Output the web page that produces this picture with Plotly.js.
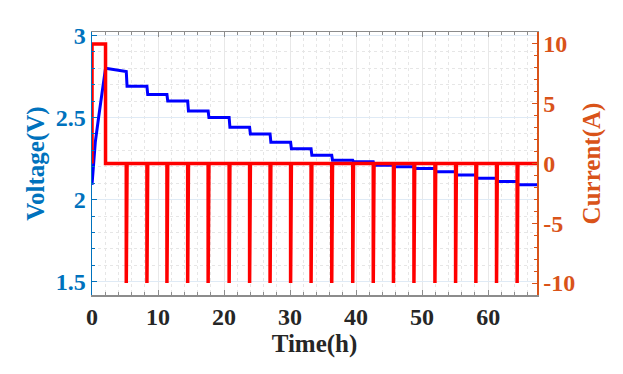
<!DOCTYPE html>
<html>
<head>
<meta charset="utf-8">
<script src="https://cdn.plot.ly/plotly-3.0.1.min.js"></script>
<style>html,body{margin:0;padding:0;background:#fff;}#chart{width:623px;height:374px;}</style>
</head>
<body>
<div id="chart"></div>
<script>
// ---- data ----
const riseTime = [0, 0.15, 0.5, 1.0, 1.5, 2.05];          // h
const riseVoltage = [2.09, 2.19, 2.35, 2.50, 2.65, 2.80]; // V
const pulseTimes = [5.19, 8.32, 11.35, 14.49, 17.59, 20.77, 23.87, 26.97, 30.08, 33.18,
                    36.31, 39.49, 42.60, 45.66, 48.76, 51.94, 55.07, 58.14, 61.27, 64.39]; // h
const plateauVoltage = [2.78, 2.69, 2.64, 2.60, 2.54, 2.50, 2.44, 2.40, 2.35, 2.31, 2.27,
                        2.24, 2.23, 2.21, 2.20, 2.19, 2.17, 2.15, 2.13, 2.11, 2.09]; // V (before/after each pulse)
const pulseDuration = 0.12;     // h
const chargeEnd = 2.05;         // h
const chargeCurrent = 10;       // A
const pulseCurrent = -10;       // A
const endTime = 67.4;           // h

// ---- build series ----
const vt = riseTime.slice(), vv = riseVoltage.slice();
const ct = [0, 0, chargeEnd, chargeEnd], cc = [0, chargeCurrent, chargeCurrent, 0];
pulseTimes.forEach((tp, k) => {
  vt.push(tp, tp + pulseDuration);
  vv.push(plateauVoltage[k], plateauVoltage[k + 1]);
  ct.push(tp, tp, tp + pulseDuration, tp + pulseDuration);
  cc.push(0, pulseCurrent, pulseCurrent, 0);
});
vt.push(endTime); vv.push(plateauVoltage[plateauVoltage.length - 1]);
ct.push(endTime); cc.push(0);

const FONT = 'Liberation Serif, Times New Roman, serif';
const BLUE = '#0072BD', ORANGE = '#D95319';

const traces = [
  {x: vt, y: vv, type: 'scatter', mode: 'lines', line: {color: '#0000FF', width: 3}, yaxis: 'y', hoverinfo: 'skip'},
  {x: ct, y: cc, type: 'scatter', mode: 'lines', line: {color: '#FF0000', width: 3.5}, yaxis: 'y2', hoverinfo: 'skip'}
];

const layout = {
  width: 623, height: 374,
  margin: {l: 92, r: 86, t: 32, b: 79},
  paper_bgcolor: '#fff', plot_bgcolor: '#fff',
  showlegend: false,
  font: {family: FONT},
  xaxis: {
    range: [0, endTime], tick0: 0, dtick: 10,
    ticks: 'inside', ticklen: 5, tickcolor: '#8c8c8c', tickwidth: 1,
    showline: true, linecolor: '#8c8c8c', linewidth: 1.5, mirror: 'ticks',
    showgrid: true, gridcolor: '#e8e8e8', gridwidth: 1, zeroline: false,
    tickfont: {family: FONT, size: 24, color: '#262626', weight: 'bold'},
    minor: {dtick: 2, ticks: 'inside', ticklen: 3, tickcolor: '#8c8c8c', showgrid: true, gridcolor: '#e6e6e6', griddash: 'dot', gridwidth: 1},
    title: {text: 'Time(h)', font: {family: FONT, size: 25, color: '#262626', weight: 'bold'}, standoff: 5}
  },
  yaxis: {
    range: [1.42, 3.02], tick0: 1.5, dtick: 0.5,
    ticks: 'inside', ticklen: 5, tickcolor: BLUE,
    showline: true, linecolor: BLUE, linewidth: 1.5,
    showgrid: true, gridcolor: '#dfeaf5', zeroline: false,
    tickfont: {family: FONT, size: 24, color: BLUE, weight: 'bold'},
    minor: {dtick: 0.1, ticks: 'inside', ticklen: 3, tickcolor: BLUE, showgrid: true, gridcolor: '#e6e6e6', griddash: 'dot', gridwidth: 1},
    title: {text: 'Voltage(V)', font: {family: FONT, size: 25, color: BLUE, weight: 'bold'}, standoff: 4}
  },
  yaxis2: {
    overlaying: 'y', side: 'right',
    range: [-11, 11], tickmode: 'array',
    tickvals: [-10, -5, 0, 5, 10], ticktext: ['-10', '-5', '0', '5', '10'],
    ticks: 'inside', ticklen: 5, tickcolor: ORANGE,
    showline: true, linecolor: ORANGE, linewidth: 1.5,
    showgrid: false, zeroline: false,
    tickfont: {family: FONT, size: 24, color: ORANGE, weight: 'bold'},
    minor: {tickmode: 'linear', tick0: 0, dtick: 1, ticks: 'inside', ticklen: 3, tickcolor: ORANGE, showgrid: false},
    title: {text: 'Current(A)', font: {family: FONT, size: 25, color: ORANGE, weight: 'bold'}, standoff: 8}
  }
};

Plotly.newPlot('chart', traces, layout, {staticPlot: true, displayModeBar: false});
</script>
</body>
</html>
